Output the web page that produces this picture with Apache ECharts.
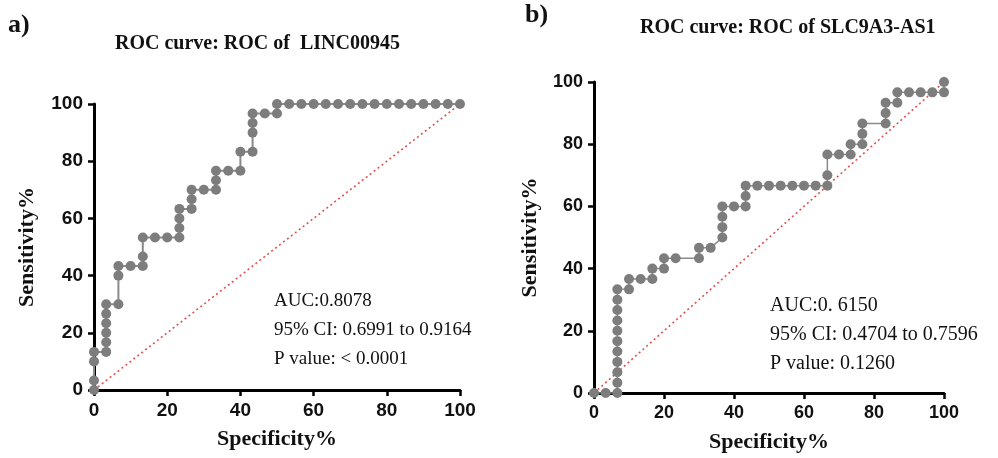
<!DOCTYPE html>
<html>
<head>
<meta charset="utf-8">
<script src="https://cdn.jsdelivr.net/npm/echarts@6/dist/echarts.min.js"></script>
<style>
html, body { margin: 0; padding: 0; background: #fff; }
#chart { width: 998px; height: 458px; }
</style>
</head>
<body>
<div id="chart"></div>
<script>
// ROC of LINC00945 (panel a)
var leftFpr = [0, 0, 0, 0, 3.33, 3.33, 3.33, 3.33, 3.33, 3.33, 6.67, 6.67, 6.67, 10, 13.33, 13.33, 13.33,
	16.67, 20, 23.33, 23.33, 23.33, 23.33, 26.67, 26.67, 26.67, 30, 33.33, 33.33, 33.33, 36.67, 40, 40,
	43.33, 43.33, 43.33, 43.33, 46.67, 50, 50, 53.33, 56.67, 60, 63.33, 66.67, 70, 73.33, 76.67, 80,
	83.33, 86.67, 90, 93.33, 96.67, 100];
var leftSens = [0, 3.33, 10, 13.33, 13.33, 16.67, 20, 23.33, 26.67, 30, 30, 40, 43.33, 43.33, 43.33, 46.67, 53.33,
	53.33, 53.33, 53.33, 56.67, 60, 63.33, 63.33, 66.67, 70, 70, 70, 73.33, 76.67, 76.67, 76.67, 83.33,
	83.33, 90, 93.33, 96.67, 96.67, 96.67, 100, 100, 100, 100, 100, 100, 100, 100, 100, 100,
	100, 100, 100, 100, 100, 100];

// ROC of SLC9A3-AS1 (panel b)
var rightFpr = [0, 3.33, 6.67, 6.67, 6.67, 6.67, 6.67, 6.67, 6.67, 6.67, 6.67, 6.67, 6.67, 10, 10, 13.33,
	16.67, 16.67, 20, 20, 23.33, 30, 30, 33.33, 36.67, 36.67, 36.67, 36.67, 40, 43.33, 43.33, 43.33,
	46.67, 50, 53.33, 56.67, 60, 63.33, 66.67, 66.67, 66.67, 70, 73.33, 73.33, 76.67, 76.67, 76.67,
	83.33, 83.33, 83.33, 86.67, 86.67, 90, 93.33, 96.67, 100, 100];
var rightSens = [0, 0, 0, 3.33, 6.67, 10, 13.33, 16.67, 20, 23.33, 26.67, 30, 33.33, 33.33, 36.67, 36.67,
	36.67, 40, 40, 43.33, 43.33, 43.33, 46.67, 46.67, 50, 53.33, 56.67, 60, 60, 60, 63.33, 66.67,
	66.67, 66.67, 66.67, 66.67, 66.67, 66.67, 66.67, 70, 76.67, 76.67, 76.67, 80, 80, 83.33, 86.67,
	86.67, 90, 93.33, 93.33, 96.67, 96.67, 96.67, 96.67, 96.67, 100];

var diagX = [0, 100];
var diagY = [0, 100];

var leftStats = ['AUC:0.8078', '95% CI: 0.6991 to 0.9164', 'P value: < 0.0001'];
var rightStats = ['AUC:0. 6150', '95% CI: 0.4704 to 0.7596', 'P value: 0.1260'];

function zip(xs, ys) {
	var out = [];
	for (var i = 0; i < xs.length; i++) {
		out.push([xs[i], ys[i]]);
	}
	return out;
}

var serif = '"Liberation Serif", "Times New Roman", serif';
var sans = '"Liberation Sans", Arial, sans-serif';

function makeAxis(idx, name, fontSize, nameGap) {
	return {
		type: 'value',
		gridIndex: idx,
		min: 0,
		max: 100,
		interval: 20,
		name: name,
		nameLocation: 'middle',
		nameGap: nameGap,
		nameTextStyle: { fontFamily: serif, fontWeight: 'bold', fontSize: 22, color: '#111' },
		axisLine: { show: true, lineStyle: { color: '#000', width: 3 } },
		axisTick: { show: true, inside: false, length: 6, lineStyle: { color: '#000', width: 2.5 } },
		axisLabel: { fontFamily: sans, fontWeight: 'bold', fontSize: fontSize, color: '#111', margin: 11 },
		splitLine: { show: false }
	};
}

var option = {
	animation: false,
	backgroundColor: '#fff',
	grid: [
		{ left: 94, top: 104, width: 366, height: 286 },
		{ left: 594, top: 82, width: 350, height: 311 }
	],
	xAxis: [
		makeAxis(0, 'Specificity%', 19, 38),
		makeAxis(1, 'Specificity%', 18, 38)
	],
	yAxis: [
		makeAxis(0, 'Sensitivity%', 19, 56),
		makeAxis(1, 'Sensitivity%', 18, 53)
	],
	series: [
		{
			type: 'line',
			xAxisIndex: 0,
			yAxisIndex: 0,
			data: zip(diagX, diagY),
			symbol: 'none',
			lineStyle: { color: '#e05050', width: 1.6, type: [2, 3] },
			z: 1
		},
		{
			type: 'line',
			xAxisIndex: 0,
			yAxisIndex: 0,
			data: zip(leftFpr, leftSens),
			symbol: 'circle',
			symbolSize: 10,
			itemStyle: { color: '#7d7d7d' },
			lineStyle: { color: '#8a8a8a', width: 2 },
			z: 2
		},
		{
			type: 'line',
			xAxisIndex: 1,
			yAxisIndex: 1,
			data: zip(diagX, diagY),
			symbol: 'none',
			lineStyle: { color: '#e05050', width: 1.6, type: [2, 3] },
			z: 1
		},
		{
			type: 'line',
			xAxisIndex: 1,
			yAxisIndex: 1,
			data: zip(rightFpr, rightSens),
			symbol: 'circle',
			symbolSize: 10,
			itemStyle: { color: '#7d7d7d' },
			lineStyle: { color: '#8a8a8a', width: 1.5 },
			z: 2
		}
	],
	graphic: [
		{ type: 'text', left: 8, top: 12, style: { text: 'a)', font: 'bold 26px ' + serif, fill: '#111' } },
		{ type: 'text', left: 525, top: 2, style: { text: 'b)', font: 'bold 26px ' + serif, fill: '#111' } },
		{ type: 'text', left: 115, top: 34, style: { text: 'ROC curve: ROC of  LINC00945', font: 'bold 20px ' + serif, fill: '#111' } },
		{ type: 'text', left: 640, top: 18, style: { text: 'ROC curve: ROC of SLC9A3-AS1', font: 'bold 20px ' + serif, fill: '#111' } },
		{ type: 'text', left: 274, top: 287, style: { text: leftStats.join('\n'), font: '19px ' + serif, lineHeight: 29, fill: '#111' } },
		{ type: 'text', left: 770, top: 291, style: { text: rightStats.join('\n'), font: '20px ' + serif, lineHeight: 29, fill: '#111' } }
	]
};

var chart = echarts.init(document.getElementById('chart'));
chart.setOption(option);
</script>
</body>
</html>
